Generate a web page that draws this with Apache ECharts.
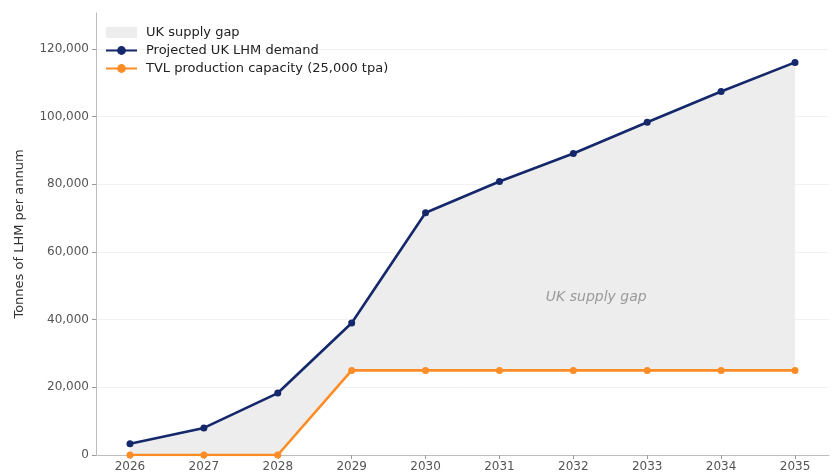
<!DOCTYPE html>
<html><head><meta charset="utf-8">
<script src="https://cdn.jsdelivr.net/npm/echarts@6/dist/echarts.min.js"></script>
<style>html,body{margin:0;padding:0;background:#fff}#c{width:832px;height:476px}</style>
</head><body><div id="c"></div>
<script>
const years = [2026, 2027, 2028, 2029, 2030, 2031, 2032, 2033, 2034, 2035];
const demand = [3300, 8000, 18300, 39000, 71600, 80800, 89100, 98300, 107400, 116000];
const capacity = [0, 0, 0, 25000, 25000, 25000, 25000, 25000, 25000, 25000];
const yTicks = [0, 20000, 40000, 60000, 80000, 100000, 120000];
const gapLabel = 'UK supply gap';

const navy = '#14286b', orange = '#fb8c26', gapColor = '#ededed';
const font = 'DejaVu Sans';
const pairs = arr => years.map((y, i) => [y, arr[i]]);

const chart = echarts.init(document.getElementById('c'), null, {renderer: 'canvas'});
chart.setOption({
  animation: false,
  textStyle: {fontFamily: font},
  grid: {left: 96, right: 3, top: 13, bottom: 21, containLabel: false},
  legend: {
    orient: 'vertical', left: 100, top: 21, itemGap: 5,
    itemWidth: 31, itemHeight: 11,
    textStyle: {fontFamily: font, fontSize: 13, color: '#222', padding: [0, 0, 0, 4]},
    data: [
      {name: 'UK supply gap', icon: 'rect', itemStyle: {color: gapColor}},
      {name: 'Projected UK LHM demand'},
      {name: 'TVL production capacity (25,000 tpa)'}
    ]
  },
  xAxis: {
    type: 'value', min: 2025.54, max: 2035.46,
    axisLine: {show: true, lineStyle: {color: '#bdbdbd'}},
    axisTick: {show: true, length: 4, lineStyle: {color: '#999'}, customValues: years},
    axisLabel: {color: '#555', fontSize: 12, fontFamily: font, margin: 6,
      customValues: years, formatter: v => String(v)},
    splitLine: {show: false}
  },
  yAxis: {
    type: 'value', min: 0, max: 130600,
    name: 'Tonnes of LHM per annum', nameLocation: 'middle', nameGap: 70,
    nameTextStyle: {fontSize: 13, color: '#333', fontFamily: font},
    axisLine: {show: true, lineStyle: {color: '#bdbdbd'}},
    axisTick: {show: true, length: 4, lineStyle: {color: '#999'}, customValues: yTicks},
    axisLabel: {color: '#555', fontSize: 12, fontFamily: font, margin: 7,
      customValues: yTicks, formatter: v => v.toLocaleString('en-US')},
    splitLine: {show: true, lineStyle: {color: '#f1f1f1', width: 1}}
  },
  series: [
    {name: 'UK supply gap', type: 'custom', z: 1, silent: true,
     itemStyle: {color: gapColor},
     encode: {x: 0, y: 1},
     data: [[years[0], 0]],
     renderItem: function (params, api) {
       const top = years.map((y, i) => api.coord([y, demand[i]]));
       const bot = years.map((y, i) => api.coord([y, capacity[i]])).reverse();
       return {type: 'polygon', shape: {points: top.concat(bot)},
               style: {fill: gapColor, stroke: null}};
     }},
    {name: 'Projected UK LHM demand', type: 'line', data: pairs(demand),
     symbol: 'circle', symbolSize: 7, color: navy,
     lineStyle: {color: navy, width: 2.6}, itemStyle: {color: navy}, z: 4},
    {name: 'TVL production capacity (25,000 tpa)', type: 'line', data: pairs(capacity),
     symbol: 'circle', symbolSize: 7, color: orange,
     lineStyle: {color: orange, width: 2.6}, itemStyle: {color: orange}, z: 3}
  ]
});
const p = chart.convertToPixel({xAxisIndex: 0, yAxisIndex: 0}, [2032.31, 46700]);
chart.setOption({
  graphic: [{type: 'text', x: p[0], y: p[1], z: 10,
    style: {text: gapLabel, fill: '#9a9a9a', font: 'italic 14px "DejaVu Sans"',
      textAlign: 'center', textVerticalAlign: 'middle'}}]
});
</script></body></html>
